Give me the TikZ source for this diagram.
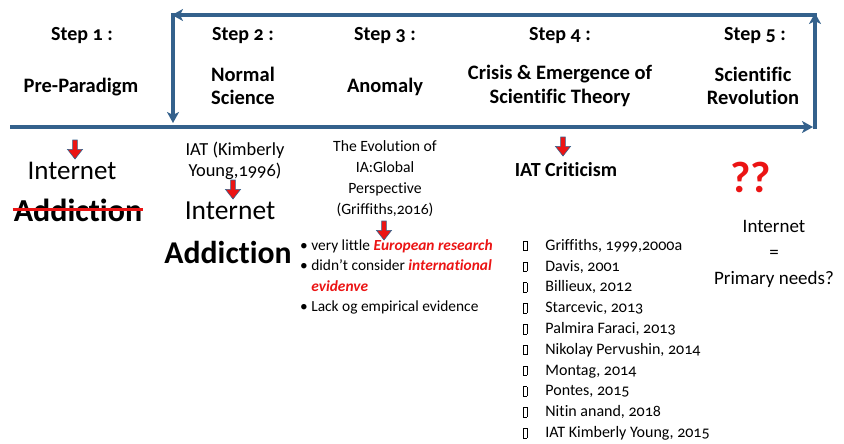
\documentclass[tikz,border=0pt]{standalone}
\usepackage{fontspec}
\setmainfont{Carlito}[Ligatures={TeX,NoCommon},Numbers=OldStyle]
\usetikzlibrary{arrows.meta,shapes.arrows}
\definecolor{frameblue}{RGB}{52,97,140}
\definecolor{hotred}{RGB}{235,20,20}
\newcommand{\bxglyph}{{\setlength\fboxsep{0pt}\setlength\fboxrule{0.6pt}\fbox{\rule{3pt}{0pt}\rule{0pt}{9pt}}}}
\newcommand{\emr}[1]{\textcolor{hotred}{\textbf{\textit{#1}}}}
\tikzset{
  cyclearrow/.style={draw=frameblue,line width=3.6pt,-{Stealth[length=11pt,width=12pt,inset=3pt]}},
  steplabel/.style={font=\fontsize{20}{24}\selectfont\bfseries,inner sep=0pt,align=center},
  phase/.style={font=\fontsize{20.5}{23.5}\selectfont\bfseries,inner sep=0pt,align=center},
  redarrow/.style={single arrow,shape border rotate=270,fill=hotred,draw=frameblue,line width=0.6pt,
     minimum height=19pt,minimum width=15pt,single arrow head extend=5pt,single arrow tip angle=76,inner sep=2pt},
  body/.style={inner sep=0pt,align=center},
}
\begin{document}
\begin{tikzpicture}[x=1pt,y=-1pt]
\useasboundingbox (0,0) rectangle (844,444);
% frame coordinates
\coordinate (mainL) at (10,127);
\coordinate (mainR) at (813,127);
\coordinate (rBot) at (815,129);
\coordinate (rTop) at (815,13);
\coordinate (tR) at (817,15);
\coordinate (tL) at (172,15);
\coordinate (lTop) at (173,13);
\coordinate (lBot) at (173,123);
\draw[cyclearrow] (mainL) -- (mainR);
\draw[cyclearrow] (rBot) -- (rTop);
\draw[cyclearrow] (tR) -- (tL);
\draw[cyclearrow] (lTop) -- (lBot);

% step headings
\node[steplabel] (s1) at (82,36) {Step 1 :};
\node[steplabel] (s2) at (243,36) {Step 2 :};
\node[steplabel] (s3) at (385,36) {Step 3 :};
\node[steplabel] (s4) at (560,36) {Step 4 :};
\node[steplabel] (s5) at (755,36) {Step 5 :};
\node[phase] (p1) at (81,87) {Pre-Paradigm};
\node[phase] (p2) at (243,86) {Normal\\Science};
\node[phase] (p3) at (385,87) {Anomaly};
\node[phase] (p4) at (560,86) {Crisis \& Emergence of\\Scientific Theory};
\node[phase] (p5) at (753,86) {Scientific\\Revolution};

% step 1 column
\node[redarrow] (a1) at (75,148) {};
\node[body,font=\fontsize{27}{30}\selectfont] (int1) at (72,171) {Internet};
\node[body,font=\fontsize{32}{34}\selectfont\bfseries] (add1) at (78,210) {Addict\kern0pt ion};
\draw[hotred,line width=3pt] ([xshift=-1pt,yshift=1pt]add1.west) -- ([xshift=1pt,yshift=1pt]add1.east);

% step 2 column
\node[body,font=\fontsize{18.4}{21}\selectfont] (iat) at (235,161) {IAT (Kimberly\\Young,1996)};
\node[redarrow] (a2) at (233,188) {};
\node[body,font=\fontsize{27.5}{30}\selectfont] (int2) at (230,211) {Internet};
\node[body,font=\fontsize{31.7}{34}\selectfont\bfseries] (add2) at (228,252) {Addict\kern0pt ion};

% step 3 column
\node[body,font=\fontsize{15.7}{21}\selectfont] (evo) at (385,179) {The Evolution of\\IA:Global\\Perspective\\(Griffiths,2016)};
\node[redarrow] (a3) at (384,229) {};
\node[inner sep=0pt,anchor=north west,align=left,font=\fontsize{15.4}{20.5}\selectfont] (bul) at (300,239)
 {\textbullet\ very little \emr{European research}\\
  \textbullet\ didn’t consider \emr{international}\\
  \phantom{\textbullet\ }\emr{evidenve}\\
  \textbullet\ Lack og empirical evidence};

% step 4 column
\node[redarrow] (a4) at (563,145) {};
\node[body,font=\fontsize{20}{24}\selectfont\bfseries] (crit) at (566,170) {IAT Criticism};
\node[inner sep=0pt,anchor=north west,align=left,font=\fontsize{16}{20.8}\selectfont] (list) at (523,239)
 {\bxglyph\hspace{18pt}Griffiths, 1999,2000a\\
  \bxglyph\hspace{18pt}Davis, 2001\\
  \bxglyph\hspace{18pt}Billieux, 2012\\
  \bxglyph\hspace{18pt}Starcevic, 2013\\
  \bxglyph\hspace{18pt}Palmira Faraci, 2013\\
  \bxglyph\hspace{18pt}Nikolay Pervushin, 2014\\
  \bxglyph\hspace{18pt}Montag, 2014\\
  \bxglyph\hspace{18pt}Pontes, 2015\\
  \bxglyph\hspace{18pt}Nitin anand, 2018\\
  \bxglyph\hspace{18pt}IAT Kimberly Young, 2015};

% step 5 column
\node[body,font=\fontsize{44}{48}\selectfont\bfseries,text=hotred] (qq) at (751,177) {??};
\node[body,font=\fontsize{19}{26}\selectfont] (prim) at (774,254) {Internet\\=\\Primary needs?};
\end{tikzpicture}
\end{document}
